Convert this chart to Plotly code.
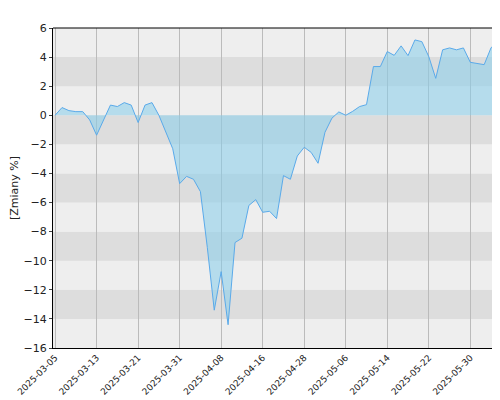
import plotly.graph_objects as go
import pandas as pd

values = [0, 0.53, 0.32, 0.25, 0.25, -0.32, -1.37, -0.3, 0.7, 0.6, 0.87, 0.7,
          -0.5, 0.7, 0.87, 0, -1.1, -2.3, -4.7, -4.2, -4.4, -5.25, -9.1, -13.4,
          -10.75, -14.4, -8.75, -8.45, -6.2, -5.8, -6.67, -6.6, -7.1, -4.15, -4.4,
          -2.8, -2.2, -2.55, -3.3, -1.17, -0.2, 0.23, 0, 0.27, 0.6, 0.73, 3.35,
          3.35, 4.38, 4.12, 4.77, 4.1, 5.18, 5.06, 4.03, 2.54, 4.5, 4.63, 4.5,
          4.63, 3.64, 3.55, 3.48, 4.65, 5.0, 5.1]
holidays = ["2025-04-18", "2025-04-21"]
days = [d for d in pd.bdate_range("2025-03-05", "2025-06-10") if d.strftime("%Y-%m-%d") not in holidays]
dates = [d.strftime("%Y-%m-%d") for d in days][:len(values)]
tick_labels = dates[::6]

fig = go.Figure()
shapes = []
for lo in range(-16, 6, 2):
    shapes.append(dict(type="rect", xref="paper", yref="y", x0=0, x1=1, y0=lo, y1=lo + 2,
                       fillcolor="#dddddd" if (lo // 2) % 2 == 1 else "#eeeeee",
                       line_width=0, layer="below"))
fig.add_trace(go.Scatter(x=dates, y=values, mode="lines", fill="tozeroy",
                         line=dict(color="#5aaaea", width=1),
                         fillcolor="rgba(135,206,235,0.55)"))
fig.update_layout(
    width=500, height=400, showlegend=False, shapes=shapes,
    margin=dict(l=45, r=1, t=20, b=60),
    paper_bgcolor="white", plot_bgcolor="#eeeeee",
    font=dict(family="DejaVu Sans", size=9, color="#222"),
)
fig.update_xaxes(type="category", tickvals=tick_labels, ticktext=tick_labels,
                 tickangle=-45, showgrid=True, gridcolor="#bbbbbb", automargin=False,
                 showline=True, linecolor="black", mirror=False,
                 range=[-0.3, len(values) - 0.7], ticks="", zeroline=False)
fig.update_yaxes(range=[-16, 6], dtick=2, showgrid=False, zeroline=False, automargin=False,
                 showline=True, linecolor="black", ticks="outside", ticklen=3,
                 tickfont=dict(size=11),
                 title=dict(text="[Zmiany %]", standoff=3, font=dict(size=11)))
fig.add_shape(type="line", xref="paper", yref="paper", x0=0, x1=1, y0=1, y1=1,
              line=dict(color="black", width=1))
fig.write_html("out.html")
